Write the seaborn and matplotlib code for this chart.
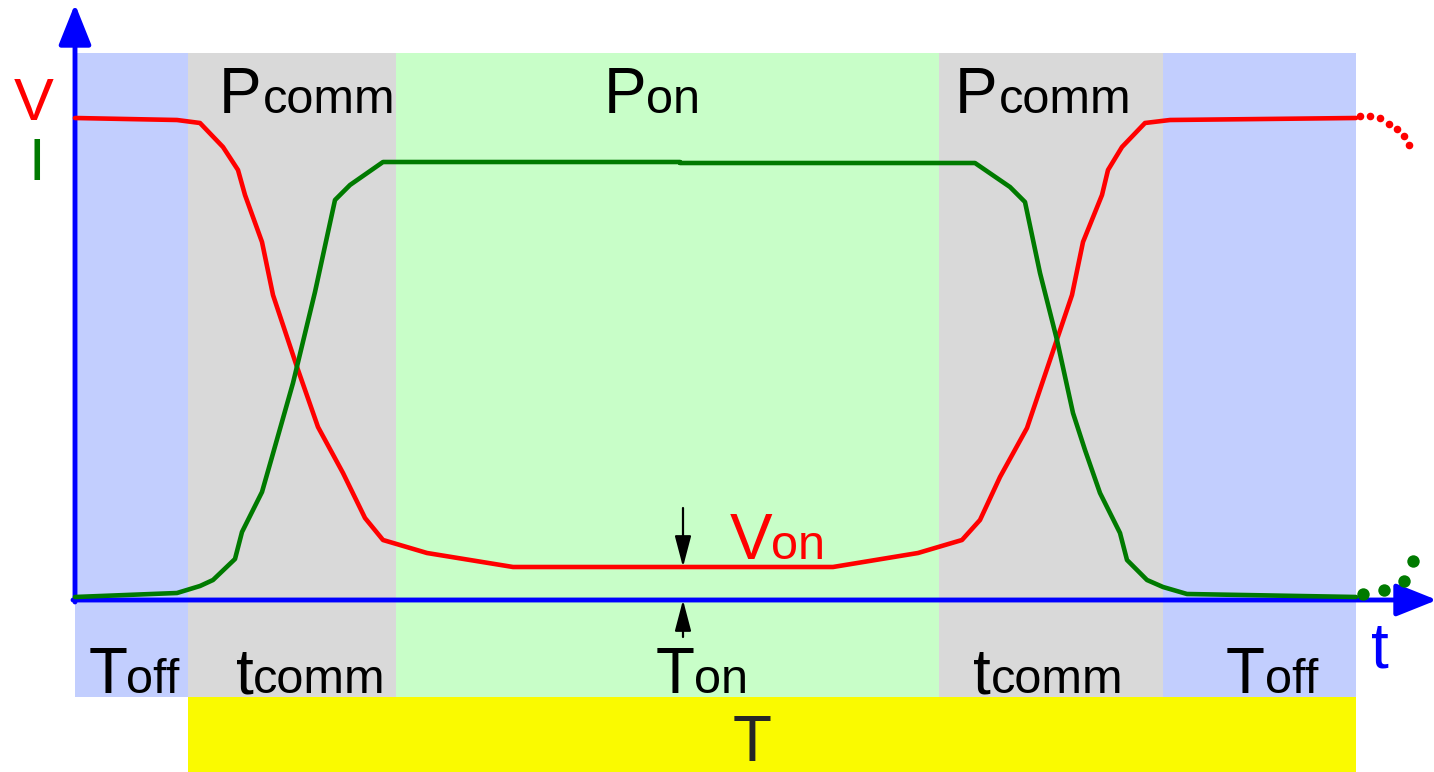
"""Switching waveform sketch: V and I over one period, with conduction phases."""

import matplotlib
matplotlib.use("Agg")
import matplotlib.pyplot as plt
import numpy as np
import pandas as pd
import seaborn as sns

sns.set_theme(style="white")
plt.rcParams["font.family"] = ["Liberation Sans", "DejaVu Sans"]

# ---------------------------------------------------------------------------
# data (time axis in drawing units, origin at the axes corner)
# ---------------------------------------------------------------------------
phase_edges = [0, 113, 321, 864, 1088, 1281]
phase_names = ["Toff", "tcomm", "Ton", "tcomm", "Toff"]
phase_colors = ["#C2CEFE", "#D9D9D9", "#C8FEC8", "#D9D9D9", "#C2CEFE"]

v_t = [0, 102, 125, 148, 163, 170, 187, 198, 222, 243, 268, 290, 308, 352, 438,
       758, 843, 887, 905, 925, 952, 975, 997, 1008, 1027, 1033, 1047, 1070, 1095, 1281]
v_val = [482, 480, 477, 453, 430, 405, 358, 305, 233, 173, 127, 82, 60, 47, 33,
         33, 47, 60, 80, 123, 172, 240, 305, 358, 405, 430, 453, 477, 480, 482]

i_t = [0, 102, 125, 138, 160, 167, 187, 197, 218, 240, 260, 275, 308, 605, 605,
       900, 935, 950, 965, 982, 998, 1010, 1025, 1045, 1052, 1072, 1088, 1112, 1281]
i_val = [3, 7, 14, 20, 41, 68, 108, 143, 217, 308, 400, 415, 438, 438, 437,
         437, 413, 398, 327, 260, 187, 150, 107, 67, 40, 20, 13, 6, 3]

# continuation of the waveforms beyond the period (dotted)
v_next_t = [1285, 1295, 1305, 1314, 1322, 1329, 1334]
v_next_val = [484, 484, 482, 476, 471, 464, 455]
i_next_t = [1288, 1309, 1329, 1338]
i_next_val = [6, 10, 19, 39]

v_on_level = 33

band_top, band_bottom, period_bottom = 547, -97, -172

# ---------------------------------------------------------------------------
fig = plt.figure(figsize=(14.34, 7.72), dpi=100)
ax = fig.add_axes([0, 0, 1, 1])

# phase bands
for left, right, col in zip(phase_edges[:-1], phase_edges[1:], phase_colors):
    ax.fill_between([left, right], band_bottom, band_top, color=col, lw=0, zorder=0)
ax.fill_between([phase_edges[1], phase_edges[-1]], period_bottom, band_bottom,
                color="#FAFA00", lw=0, zorder=0)

# axes arrows
axis_kw = dict(arrowstyle="-|>,head_length=2.5,head_width=1.0", color="#0000FF",
               lw=3.5, shrinkA=0, shrinkB=0, mutation_scale=10)
ax.annotate("", xy=(0, 596), xytext=(0, -2), arrowprops=axis_kw, annotation_clip=False,
            zorder=3)
ax.annotate("", xy=(1362, 0), xytext=(-2, 0), arrowprops=axis_kw, annotation_clip=False,
            zorder=3)

# waveforms
wave = pd.DataFrame({"t": v_t, "V": v_val})
cur = pd.DataFrame({"t": i_t, "I": i_val})
sns.lineplot(data=wave, x="t", y="V", sort=False, estimator=None, color="#FF0000",
             lw=3.3, ax=ax, zorder=4)
sns.lineplot(data=cur, x="t", y="I", sort=False, estimator=None, color="#007A00",
             lw=3.3, ax=ax, zorder=4)
sns.scatterplot(x=v_next_t, y=v_next_val, color="#FF0000", s=30, linewidth=0, ax=ax,
                zorder=4)
sns.scatterplot(x=i_next_t, y=i_next_val, color="#007A00", s=80, linewidth=0, ax=ax,
                zorder=4)
ax.set_xlim(-75, 1359)
ax.set_ylim(-172, 600)
ax.set_axis_off()

# Von dimension arrows
dim_x = 608
dim_kw = dict(arrowstyle="-|>,head_length=1.9,head_width=0.5", color="black",
              lw=1.6, shrinkA=0, shrinkB=0, mutation_scale=10)
ax.annotate("", xy=(dim_x, v_on_level), xytext=(dim_x, v_on_level + 59),
            arrowprops=dim_kw, zorder=5)
ax.annotate("", xy=(dim_x, 0), xytext=(dim_x, -37), arrowprops=dim_kw, zorder=5)

# labels
big, small = 46, 35


def two_part(x_big, x_small, y, main, sub, color="black"):
    ax.text(x_big, y, main, fontsize=big, color=color, ha="left", va="baseline", zorder=6)
    ax.text(x_small, y, sub, fontsize=small, color=color, ha="left", va="baseline",
            zorder=6)


two_part(144, 188, 487, "P", "comm")
two_part(529, 571, 487, "P", "on")
two_part(880, 924, 487, "P", "comm")

two_part(14, 51, -93, "T", "off")
two_part(161, 178, -93, "t", "comm")
two_part(581, 619, -93, "T", "on")
two_part(898, 916, -93, "t", "comm")
two_part(1151, 1190, -93, "T", "off")

two_part(655, 696, 41, "V", "on", color="#FF0000")

ax.text(677, -161, "T", fontsize=big, ha="center", va="baseline", zorder=6)
ax.text(1305, -67, "t", fontsize=big, color="#0000FF", ha="center", va="baseline")
ax.text(-41, 480, "V", fontsize=43, color="#FF0000", ha="center", va="baseline")
ax.text(-38, 420, "I", fontsize=43, color="#007A00", ha="center", va="baseline")

fig.savefig("out.png", dpi=100)
plt.close(fig)
